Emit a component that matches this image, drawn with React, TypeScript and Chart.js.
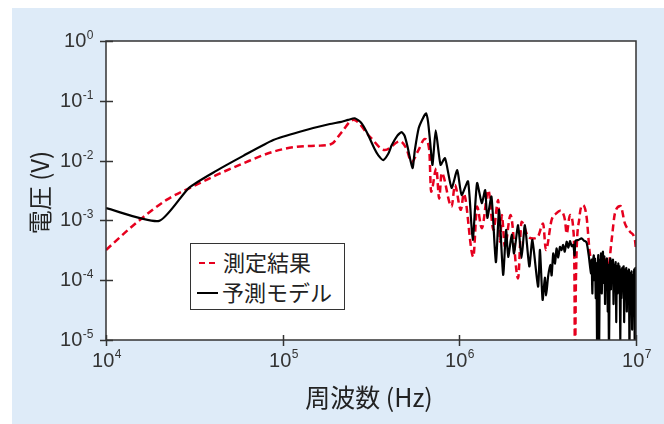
import React, { useEffect, useRef } from "react";
import { Chart, registerables } from "chart.js";

Chart.register(...registerables);

// ---- data (Hz, V) ----
const measuredFreq = [
  1.0e4, 1.43e4, 2.2e4, 2.99e4, 4.23e4, 5.98e4, 8.85e4, 1.2e5, 1.63e5, 1.89e5,
  2.16e5, 2.51e5, 3.12e5, 3.79e5, 4.61e5, 5.01e5, 5.36e5, 5.87e5, 6.38e5, 6.76e5,
  6.92e5, 7.41e5, 7.69e5, 7.94e5, 9.04e5, 9.44e5, 1.02e6, 1.06e6, 1.2e6, 1.26e6,
  1.34e6, 1.46e6, 1.56e6, 1.66e6, 1.7e6, 1.74e6, 1.81e6, 1.95e6, 2.15e6, 2.25e6,
  2.45e6, 2.62e6, 2.79e6, 2.98e6, 3.09e6, 3.33e6, 3.55e6, 3.72e6, 3.96e6, 4.05e6,
  4.23e6, 4.42e6, 4.49e6, 4.51e6, 4.57e6, 4.78e6, 5.01e6, 5.25e6, 5.48e6, 5.85e6,
  6.25e6, 6.67e6, 6.97e6, 7.28e6, 7.6e6, 8.17e6, 8.65e6, 9.23e6, 9.86e6, 1.0e7,
];
const measuredVolt = [
  3.2e-4, 8.3e-4, 2.2e-3, 3.5e-3, 5.75e-3, 9.0e-3, 1.41e-2, 1.7e-2, 1.78e-2, 1.9e-2,
  3.0e-2, 4.8e-2, 2.5e-2, 1.5e-2, 2.1e-2, 1.6e-2, 9.5e-3, 1.5e-2, 2.3e-2, 1.5e-2,
  3.0e-3, 7.4e-3, 2.3e-3, 6.2e-3, 1.7e-3, 3.9e-3, 1.5e-3, 2.8e-3, 2.45e-4, 1.7e-3,
  7.4e-4, 3.2e-3, 6.9e-4, 2.2e-3, 4.4e-4, 1.23e-3, 3.6e-4, 1.23e-3, 1.07e-4, 9.5e-4,
  5.4e-4, 5.0e-4, 5.4e-4, 8.9e-4, 3.2e-4, 1.02e-3, 1.32e-3, 1.45e-3, 1.02e-3, 6.0e-4,
  1.23e-3, 6.9e-4, 6.3e-5, 2.5e-6, 1.0e-4, 1.1e-3, 1.8e-3, 1.15e-3, 2.8e-4, 1.38e-4,
  1.9e-4, 2.45e-4, 1.7e-4, 4.7e-4, 1.32e-3, 1.74e-3, 8.9e-4, 6.5e-4, 4.7e-4, 3.2e-4,
];

const modelFreq = [
  1.0e4, 2.0e4, 2.95e4, 4.23e4, 5.98e4, 8.85e4, 1.25e5, 1.85e5, 2.11e5, 2.35e5,
  2.56e5, 2.78e5, 2.99e5, 3.31e5, 3.48e5, 3.71e5, 3.96e5, 4.14e5, 4.45e5, 4.71e5,
  4.9e5, 5.07e5, 5.43e5, 5.6e5, 5.89e5, 6.2e5, 6.47e5, 6.65e5, 6.84e5,
  7.05e5, 7.35e5, 7.83e5, 8.3e5, 9.04e5, 9.73e5, 1.03e6, 1.12e6, 1.19e6, 1.26e6,
  1.34e6, 1.4e6, 1.44e6, 1.52e6, 1.61e6, 1.68e6, 1.77e6, 1.84e6, 1.89e6, 1.98e6,
  2.04e6, 2.15e6, 2.25e6, 2.35e6, 2.49e6, 2.59e6, 2.79e6, 2.86e6, 2.96e6, 3.05e6,
  3.1e6, 3.18e6, 3.27e6, 3.33e6, 3.4e6, 3.48e6, 3.55e6, 3.63e6, 3.71e6, 3.79e6,
  3.87e6, 3.95e6, 4.05e6, 4.14e6, 4.23e6, 4.33e6, 4.42e6, 4.49e6, 4.55e6, 4.71e6,
  4.92e6, 5.07e6, 5.25e6, 5.4e6,
  5.56e6, 5.61e6, 5.66e6, 5.71e6, 5.77e6, 5.82e6, 5.86e6, 5.92e6, 5.97e6, 6.03e6,
  6.07e6, 6.12e6, 6.18e6, 6.24e6, 6.28e6, 6.34e6, 6.4e6, 6.46e6, 6.5e6, 6.56e6,
  6.62e6, 6.68e6, 6.73e6, 6.79e6, 6.85e6, 6.92e6, 6.97e6, 7.03e6, 7.1e6, 7.16e6,
  7.21e6, 7.28e6, 7.35e6, 7.41e6, 7.46e6, 7.53e6, 7.6e6, 7.67e6, 7.73e6, 7.8e6,
  7.87e6, 7.94e6, 8.0e6, 8.07e6, 8.15e6, 8.22e6, 8.28e6, 8.36e6, 8.43e6, 8.51e6,
  8.57e6, 8.65e6, 8.73e6, 8.81e6, 8.87e6, 8.95e6, 9.04e6, 9.12e6, 9.18e6, 9.27e6,
  9.35e6, 9.44e6, 9.51e6, 9.59e6, 9.68e6, 9.77e6, 9.84e6, 9.93e6, 1.0e7,
];
const modelVolt = [
  1.6e-3, 9.8e-4, 3.5e-3, 6.8e-3, 1.2e-2, 2.21e-2, 3.04e-2, 4.09e-2, 4.4e-2, 4.8e-2,
  5.1e-2, 4.3e-2, 3.0e-2, 1.58e-2, 1.22e-2, 1.02e-2, 1.3e-2, 1.8e-2, 2.6e-2, 3.0e-2,
  2.6e-2, 1.8e-2, 7.5e-3, 1.5e-2, 3.5e-2, 5.0e-2, 6.2e-2, 4.5e-2, 2.0e-2,
  8.5e-3, 3.2e-2, 8.5e-3, 1.1e-2, 3.5e-3, 6.9e-3, 2.66e-3, 4.5e-3, 4.7e-4, 4.2e-3,
  1.95e-3, 3.2e-3, 1.1e-3, 2.5e-3, 2.0e-4, 1.5e-3, 1.23e-4, 6.9e-4, 2.45e-4, 5.75e-4,
  2.8e-4, 8.3e-4, 2.35e-4, 8.3e-4, 1.7e-4, 4.7e-4, 7.8e-5, 3.2e-4, 4.7e-5, 1.1e-4,
  5.6e-5, 1.15e-4, 1.8e-4, 1.2e-4, 2.8e-4, 1.9e-4, 3.4e-4, 2.4e-4, 3.6e-4, 3.2e-4,
  3.9e-4, 3.0e-4, 4.4e-4, 3.5e-4, 4.5e-4, 3.7e-4, 3.9e-4, 2.6e-4, 4.6e-4, 4.7e-4,
  5.0e-4, 4.6e-4, 4.3e-4, 2.6e-4,
  1.3e-4, 2.2e-4, 6.0e-5, 2.0e-4, 2.6e-4, 1.0e-4, 2.3e-4, 5.0e-5, 1.9e-4, 4.0e-6,
  1.7e-4, 2.6e-4, 5.0e-6, 2.2e-4, 1.2e-4, 2.8e-4, 6.0e-5, 2.4e-4, 3.0e-4, 9.0e-5,
  2.5e-4, 4.0e-5, 2.1e-4, 1.3e-4, 2.3e-4, 3.0e-5, 1.8e-4, 5.0e-6, 1.6e-4, 2.3e-4,
  7.0e-5, 2.1e-4, 1.2e-4, 2.2e-4, 4.0e-5, 1.8e-4, 1.0e-4, 2.0e-4, 2.0e-5, 1.7e-4,
  6.0e-5, 1.9e-4, 1.2e-4, 1.7e-4, 1.0e-5, 1.5e-4, 5.0e-5, 1.6e-4, 9.0e-5, 1.7e-4,
  2.0e-5, 1.5e-4, 6.0e-5, 1.6e-4, 3.0e-5, 1.4e-4, 8.0e-5, 1.5e-4, 6.0e-6, 1.3e-4,
  4.0e-5, 1.4e-4, 1.5e-5, 1.2e-4, 5.0e-5, 1.5e-4, 5.0e-6, 1.6e-4, 1.5e-4,
];

const seriesNames = ["測定結果", "予測モデル"];
const xTickExponents = [4, 5, 6, 7];
const yTickExponents = [0, -1, -2, -3, -4, -5];
const xTitle = "周波数 (Hz)";
const yTitle = "電圧 (V)";

const RED = "#e6001e";
const LABEL_FONT = '"Liberation Sans", Arial, sans-serif';
const CJK_FONT = '"Noto Sans CJK JP", "Noto Sans", sans-serif';

function drawPower(ctx: CanvasRenderingContext2D, x: number, y: number, exp: number, align: "right" | "center") {
  const base = "10";
  const es = String(exp);
  ctx.font = `20px ${LABEL_FONT}`;
  const bw = ctx.measureText(base).width;
  ctx.font = `12px ${LABEL_FONT}`;
  const ew = ctx.measureText(es).width;
  const x0 = align === "right" ? x - bw - ew : x - (bw + ew) / 2;
  ctx.fillStyle = "#333";
  ctx.textAlign = "left";
  ctx.textBaseline = "middle";
  ctx.font = `20px ${LABEL_FONT}`;
  ctx.fillText(base, x0, y);
  ctx.font = `12px ${LABEL_FONT}`;
  ctx.fillText(es, x0 + bw + 0.5, y - 6);
}

const decorPlugin = {
  id: "decor",
  beforeDraw(chart: any) {
    const { ctx, chartArea: a } = chart;
    ctx.save();
    ctx.fillStyle = "#ffffff";
    ctx.fillRect(a.left, a.top, a.right - a.left, a.bottom - a.top);
    ctx.restore();
  },
  afterDraw(chart: any) {
    const { ctx, chartArea: a, scales } = chart;
    const xs = scales.x;
    const ys = scales.y;
    ctx.save();
    ctx.strokeStyle = "#333";
    ctx.lineWidth = 1.5;
    ctx.strokeRect(a.left, a.top, a.right - a.left, a.bottom - a.top);
    for (const e of yTickExponents) {
      const py = Math.round(ys.getPixelForValue(Math.pow(10, e))) + 0.5;
      ctx.beginPath();
      ctx.moveTo(a.left - 6, py);
      ctx.lineTo(a.left + 7, py);
      ctx.stroke();
      drawPower(ctx, a.left - 13, py, e, "right");
    }
    for (const e of xTickExponents) {
      const px = Math.round(xs.getPixelForValue(Math.pow(10, e))) + 0.5;
      ctx.beginPath();
      ctx.moveTo(px, a.bottom - 5);
      ctx.lineTo(px, a.bottom + 6);
      ctx.stroke();
      drawPower(ctx, px, a.bottom + 21, e, "center");
    }
    ctx.fillStyle = "#222";
    ctx.textAlign = "center";
    ctx.textBaseline = "middle";
    ctx.font = `25px ${CJK_FONT}`;
    ctx.fillText(xTitle, (a.left + a.right) / 2 - 2, a.bottom + 57);
    ctx.font = `24px ${CJK_FONT}`;
    ctx.translate(28, (a.top + a.bottom) / 2 + 2);
    ctx.rotate(-Math.PI / 2);
    ctx.fillText(yTitle, 0, 0);
    ctx.restore();
  },
};

export default function App() {
  const ref = useRef<HTMLCanvasElement | null>(null);
  useEffect(() => {
    if (!ref.current) return;
    const chart = new Chart(ref.current, {
      type: "line",
      data: {
        datasets: [
          {
            label: seriesNames[0],
            data: measuredFreq.map((f, i) => ({ x: f, y: measuredVolt[i] })),
            borderColor: RED,
            borderWidth: 2.5,
            borderDash: [7, 4],
            pointRadius: 0,
            cubicInterpolationMode: "monotone",
            order: 2,
          },
          {
            label: seriesNames[1],
            data: modelFreq.map((f, i) => ({ x: f, y: modelVolt[i] })),
            borderColor: "#000000",
            borderWidth: 2.2,
            pointRadius: 0,
            tension: 0.2,
            borderJoinStyle: "round",
            order: 1,
          },
        ],
      },
      options: {
        responsive: false,
        animation: false,
        maintainAspectRatio: false,
        layout: { padding: { left: 94, top: 33, right: 28, bottom: 84 } },
        plugins: { legend: { display: false }, tooltip: { enabled: false } },
        scales: {
          x: { type: "logarithmic", min: 1e4, max: 1e7, display: false },
          y: { type: "logarithmic", min: 1e-5, max: 1, display: false },
        },
      },
      plugins: [decorPlugin],
    });
    return () => chart.destroy();
  }, []);

  return (
    <div
      style={{
        position: "fixed",
        left: 12,
        top: 8,
        width: 652,
        height: 416,
        background: "#deebf8",
      }}
    >
      <canvas ref={ref} width={652} height={416} style={{ display: "block" }} />
      <div
        style={{
          position: "absolute",
          left: 178,
          top: 235,
          width: 153,
          height: 65,
          background: "#fff",
          border: "1.5px solid #333",
          fontFamily: CJK_FONT,
          fontSize: 22,
          color: "#222",
        }}
      >
        <div style={{ position: "absolute", left: 8, top: 18, width: 6, height: 2, background: RED }} />
        <div style={{ position: "absolute", left: 18, top: 18, width: 6, height: 2, background: RED }} />
        <span style={{ position: "absolute", left: 32, top: 4, lineHeight: "26px", whiteSpace: "nowrap" }}>{seriesNames[0]}</span>
        <div style={{ position: "absolute", left: 6, top: 48, width: 21, height: 2, background: "#000" }} />
        <span style={{ position: "absolute", left: 31, top: 34, lineHeight: "26px", whiteSpace: "nowrap" }}>{seriesNames[1]}</span>
      </div>
    </div>
  );
}
